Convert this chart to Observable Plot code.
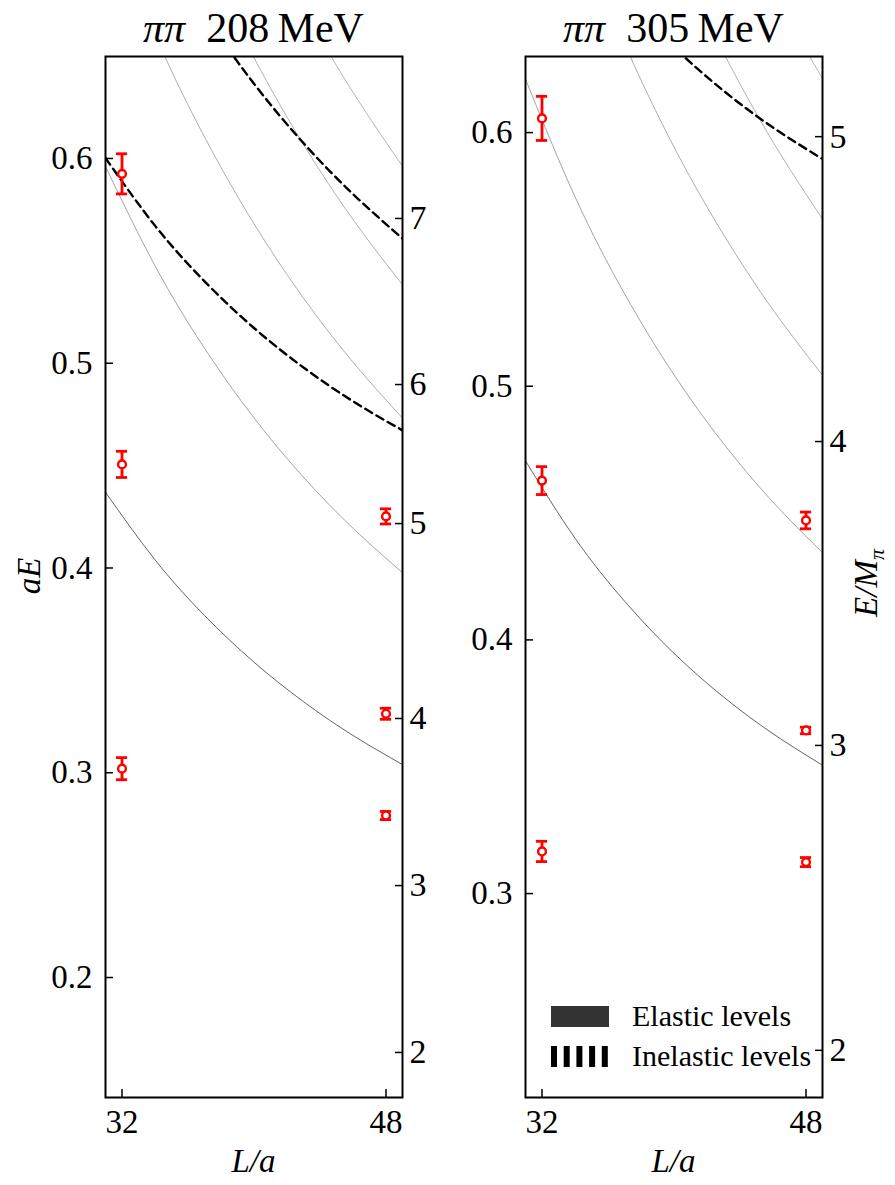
<!DOCTYPE html>
<html><head><meta charset="utf-8">
<script src="https://cdn.jsdelivr.net/npm/d3@7"></script>
<script src="https://cdn.jsdelivr.net/npm/@observablehq/plot@0.6"></script>
<style>
body{margin:0;background:#fff;}
#wrap{position:relative;width:895px;height:1185px;overflow:hidden;background:#fff;font-family:"Liberation Serif",serif;}
#wrap > svg{position:absolute;top:0;}
</style></head><body><div id="wrap"></div>
<script>
// ---- data ----
const L = [31, 34, 37, 40, 43, 46, 49];

// pi pi 208 MeV
const elastic208 = [
  [0.4370, 0.4040, 0.3768, 0.3540, 0.3347, 0.3182, 0.3040],
  [0.5961, 0.5476, 0.5073, 0.4733, 0.4443, 0.4194, 0.3977],
  [0.7208, 0.6606, 0.6105, 0.5681, 0.5318, 0.5005, 0.4732],
  [0.8270, 0.7570, 0.6986, 0.6492, 0.6068, 0.5702, 0.5383],
  [0.9210, 0.8424, 0.7768, 0.7212, 0.6735, 0.6323, 0.5962]
];
const inelastic208 = [
  [0.6002, 0.5672, 0.5400, 0.5172, 0.4979, 0.4814, 0.4672],
  [0.7593, 0.7108, 0.6705, 0.6365, 0.6075, 0.5826, 0.5609]
];
const ptsL208 = [32, 32, 32, 48, 48, 48];
const ptsE208 = [0.5925, 0.4506, 0.3020, 0.4252, 0.3288, 0.2791];
const ptsErr208 = [0.0098, 0.0064, 0.0054, 0.0037, 0.0027, 0.0020];
const yTicks208 = [0.2, 0.3, 0.4, 0.5, 0.6];
const rLabels208 = [2, 3, 4, 5, 6, 7];
const rPos208 = [0.1634, 0.2449, 0.3265, 0.4217, 0.4896, 0.5707];
const yDom208 = [0.1414, 0.6498];

// pi pi 305 MeV
const elastic305 = [
  [0.4706, 0.4401, 0.4153, 0.3947, 0.3775, 0.3630, 0.3506],
  [0.6211, 0.5747, 0.5365, 0.5045, 0.4774, 0.4543, 0.4344],
  [0.7417, 0.6833, 0.6350, 0.5943, 0.5598, 0.5301, 0.5044],
  [0.8452, 0.7769, 0.7201, 0.6722, 0.6315, 0.5963, 0.5659],
  [0.9374, 0.8603, 0.7962, 0.7420, 0.6958, 0.6559, 0.6213]
];
const inelastic305 = [
  [0.7096, 0.6791, 0.6543, 0.6337, 0.6165, 0.6020, 0.5896]
];
const ptsL305 = [32, 32, 32, 48, 48, 48];
const ptsE305 = [0.6056, 0.4628, 0.3166, 0.4471, 0.3643, 0.3124];
const ptsErr305 = [0.0087, 0.0055, 0.0040, 0.0033, 0.0013, 0.0018];
const yTicks305 = [0.3, 0.4, 0.5, 0.6];
const rLabels305 = [2, 3, 4, 5];
const rPos305 = [0.2382, 0.3584, 0.4782, 0.5984];
const yDom305 = [0.2196, 0.6300];

const xTicks = [32, 48];
const xDom = [31, 49];
const elasticOpacity = [0.85, 0.5, 0.45, 0.42, 0.4];

// ---- drawing ----
const FONT = "Liberation Serif";
function panel(o) {
  const marks = [];
  o.elastic.forEach((arr, k) => {
    marks.push(Plot.line(arr, {x: L, y: arr, curve: "natural", stroke: "#333",
      strokeOpacity: elasticOpacity[k], strokeWidth: 0.9, clip: true}));
  });
  o.inelastic.forEach(arr => {
    marks.push(Plot.line(arr, {x: L, y: arr, curve: "natural", stroke: "black",
      strokeWidth: 2.4, strokeDasharray: "8,5", clip: true}));
  });
  const lo = o.pE.map((e, i) => e - o.pErr[i]);
  const hi = o.pE.map((e, i) => e + o.pErr[i]);
  const red = "#ff0000";
  marks.push(
    Plot.ruleX(o.pE, {x: o.pL, y1: lo, y2: hi, stroke: red, strokeWidth: 2.8}),
    Plot.ruleY(o.pE, {y: lo, x1: o.pL.map(l => l - 0.34), x2: o.pL.map(l => l + 0.34), stroke: red, strokeWidth: 2.8}),
    Plot.ruleY(o.pE, {y: hi, x1: o.pL.map(l => l - 0.34), x2: o.pL.map(l => l + 0.34), stroke: red, strokeWidth: 2.8}),
    Plot.dot(o.pE, {x: o.pL, y: o.pE, r: 3.9, fill: "white", stroke: red, strokeWidth: 2.4}),
    Plot.axisX(xTicks, {anchor: "bottom", tickSize: -8, tickPadding: 20, strokeWidth: 1.5, label: null,
      fontFamily: FONT, fontSize: 33}),
    Plot.axisY(o.yTicks, {anchor: "left", tickSize: -8, tickPadding: 21, strokeWidth: 1.5,
      tickFormat: d3.format(".1f"), label: null, fontFamily: FONT, fontSize: 33}),
    Plot.axisY(o.rPos, {anchor: "right", tickSize: -8, tickPadding: 15, strokeWidth: 1.5,
      tickFormat: d => String(o.rLabels[o.rPos.indexOf(d)]), label: null, fontFamily: FONT, fontSize: 34}),
    Plot.frame({stroke: "black", strokeWidth: 2})
  );
  return Plot.plot({
    width: o.width, height: 1185,
    marginLeft: o.ml, marginRight: o.mr, marginTop: 56, marginBottom: 88,
    x: {domain: xDom, label: null},
    y: {domain: o.yDom, label: null},
    style: {fontFamily: FONT, fontSize: "33px", background: "transparent", color: "black", overflow: "visible"},
    marks
  });
}

const wrap = document.getElementById("wrap");
const p1 = panel({width: 448, ml: 105, mr: 46, yDom: yDom208, elastic: elastic208, inelastic: inelastic208,
  pL: ptsL208, pE: ptsE208, pErr: ptsErr208, yTicks: yTicks208, rPos: rPos208, rLabels: rLabels208});
p1.style.left = "0px";
const p2 = panel({width: 447, ml: 77, mr: 73, yDom: yDom305, elastic: elastic305, inelastic: inelastic305,
  pL: ptsL305, pE: ptsE305, pErr: ptsErr305, yTicks: yTicks305, rPos: rPos305, rLabels: rLabels305});
p2.style.left = "448px";
wrap.appendChild(p1);
wrap.appendChild(p2);

// overlay: titles, axis labels, legend
const ov = d3.select(wrap).append("svg")
  .attr("width", 895).attr("height", 1185)
  .style("left", "0px").style("pointer-events", "none")
  .attr("font-family", FONT);

const titles = [{x: 253.5, t: "208"}, {x: 673.5, t: "305"}];
titles.forEach(d => {
  const t = ov.append("text").attr("x", d.x).attr("y", 42).attr("text-anchor", "middle")
    .attr("font-size", 42).attr("font-family", FONT);
  t.append("tspan").attr("font-style", "italic").text("ππ");
  t.append("tspan").text("\u2002" + d.t + "\u2009MeV");
});
[253.5, 673.5].forEach(x => {
  ov.append("text").attr("x", x).attr("y", 1172).attr("text-anchor", "middle").attr("font-family", FONT)
    .attr("font-size", 33).attr("font-style", "italic").text("L/a");
});
ov.append("text").attr("transform", "translate(40,576) rotate(-90)").attr("text-anchor", "middle")
  .attr("font-family", FONT).attr("font-size", 33).attr("font-style", "italic").text("aE");
const el = ov.append("text").attr("transform", "translate(877,583) rotate(-90)").attr("text-anchor", "middle")
  .attr("font-family", FONT).attr("font-size", 33).attr("font-style", "italic");
el.append("tspan").text("E/M");
el.append("tspan").attr("font-size", 22).attr("dy", 7).text("π");

// legend
ov.append("rect").attr("x", 551).attr("y", 1006).attr("width", 58).attr("height", 21).attr("fill", "#333");
ov.append("line").attr("x1", 551).attr("x2", 609).attr("y1", 1056.5).attr("y2", 1056.5)
  .attr("stroke", "black").attr("stroke-width", 21).attr("stroke-dasharray", "6,6.7");
ov.append("text").attr("x", 632).attr("y", 1026).attr("font-size", 30).attr("font-family", FONT).text("Elastic levels");
ov.append("text").attr("x", 632).attr("y", 1066).attr("font-size", 30).attr("font-family", FONT).text("Inelastic levels");
</script></body></html>
